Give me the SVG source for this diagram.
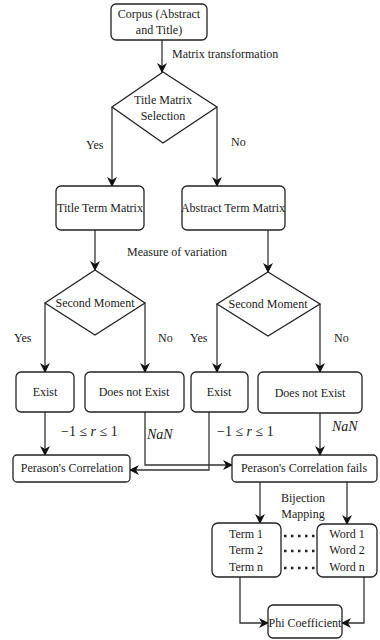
<svg xmlns="http://www.w3.org/2000/svg" width="380" height="640" viewBox="0 0 380 640">
<style>
.box{fill:#fff;stroke:#222;stroke-width:1.3}
.dia{fill:#fff;stroke:#222;stroke-width:1.3}
.t{font-size:12px;fill:#1a1a1a;text-anchor:middle}
.l{font-size:12px;fill:#1a1a1a}
.m{font-size:14px;fill:#1a1a1a}
.ca{fill:none;stroke:#333;stroke-width:1.3;marker-end:url(#ah)}
.dot{fill:none;stroke:#222;stroke-width:2.5;stroke-dasharray:2.5 4.5}
</style>
<defs>
<marker id="ah" viewBox="0 0 10 10" refX="9" refY="5" markerWidth="10" markerHeight="10" orient="auto" markerUnits="userSpaceOnUse">
<path d="M0,0 L10,5 L0,10 L3,5 Z" fill="#111"/>
</marker>
</defs>
<rect width="380" height="640" fill="#fff"/>
<g font-family="Liberation Serif, Times New Roman, serif">
<g id="connectors">
<path class="ca" d="M162,40 V72"/>
<path class="ca" d="M112,107 V186"/>
<path class="ca" d="M217,107 V186"/>
<path class="ca" d="M95,230 V270"/>
<path class="ca" d="M268,230 V272"/>
<path class="ca" d="M45,303 V372"/>
<path class="ca" d="M145,303 V372"/>
<path class="ca" d="M217,304 V372"/>
<path class="ca" d="M320,304 V372"/>
<path class="ca" d="M45,412 V455"/>
<path class="ca" d="M145,412 V465 H232"/>
<path class="ca" d="M209,412 V470 H130"/>
<path class="ca" d="M320,413 V455"/>
<path class="ca" d="M260,482 V523"/>
<path class="ca" d="M347,482 V524"/>
<path class="ca" d="M240,577 V623 H268"/>
<path class="ca" d="M364,577 V623 H342"/>
<path class="dot" d="M284,536 H316"/>
<path class="dot" d="M284,551 H316"/>
<path class="dot" d="M284,568 H316"/>
<text class="l" x="172" y="58">Matrix transformation</text>
<text class="l" x="86" y="149">Yes</text>
<text class="l" x="231" y="146">No</text>
<text class="t" x="177" y="256">Measure of variation</text>
<text class="l" x="14" y="342">Yes</text>
<text class="l" x="158" y="342">No</text>
<text class="l" x="190" y="342">Yes</text>
<text class="l" x="334" y="342">No</text>
<text class="m" x="61" y="436">−1 ≤ <tspan font-style="italic">r</tspan> ≤ 1</text>
<text class="m" x="147" y="439" font-style="italic">NaN</text>
<text class="m" x="217" y="436">−1 ≤ <tspan font-style="italic">r</tspan> ≤ 1</text>
<text class="m" x="332" y="431" font-style="italic">NaN</text>
<text class="t" x="303" y="502">Bijection</text>
<text class="t" x="303" y="518">Mapping</text>
</g>
<g id="corpus">
<rect class="box" x="111" y="4" width="96" height="36" rx="5"/>
<text class="t" x="159" y="18">Corpus (Abstract</text>
<text class="t" x="159" y="34">and Title)</text>
</g>
<g id="title-matrix-selection">
<polygon class="dia" points="163,72 217,107 163,143 112,107"/>
<text class="t" x="163" y="104">Title Matrix</text>
<text class="t" x="163" y="120">Selection</text>
</g>
<g id="title-term-matrix">
<rect class="box" x="56" y="186" width="88" height="44" rx="5"/>
<text class="t" x="100" y="212">Title Term Matrix</text>
</g>
<g id="abstract-term-matrix">
<rect class="box" x="182" y="186" width="103" height="44" rx="5"/>
<text class="t" x="233" y="212">Abstract Term Matrix</text>
</g>
<g id="second-moment-left">
<polygon class="dia" points="95,270 145,303 95,335 45,303"/>
<text class="t" x="95" y="307">Second Moment</text>
</g>
<g id="second-moment-right">
<polygon class="dia" points="268,272 320,304 268,336 217,304"/>
<text class="t" x="268" y="308">Second Moment</text>
</g>
<g id="exist-left">
<rect class="box" x="16" y="372" width="58" height="40" rx="5"/>
<text class="t" x="45" y="396">Exist</text>
</g>
<g id="not-exist-left">
<rect class="box" x="85" y="372" width="99" height="40" rx="5"/>
<text class="t" x="134" y="396">Does not Exist</text>
</g>
<g id="exist-right">
<rect class="box" x="191" y="372" width="57" height="40" rx="5"/>
<text class="t" x="219" y="396">Exist</text>
</g>
<g id="not-exist-right">
<rect class="box" x="258" y="372" width="104" height="41" rx="5"/>
<text class="t" x="310" y="397">Does not Exist</text>
</g>
<g id="pearson">
<rect class="box" x="13" y="455" width="117" height="27" rx="4"/>
<text class="t" x="72" y="472">Perason's Correlation</text>
</g>
<g id="pearson-fails">
<rect class="box" x="232" y="455" width="145" height="27" rx="4"/>
<text class="t" x="304" y="472">Perason's Correlation fails</text>
</g>
<g id="terms">
<rect class="box" x="212" y="523" width="69" height="54" rx="6"/>
<text class="t" x="246" y="538">Term 1</text>
<text class="t" x="246" y="554">Term 2</text>
<text class="t" x="246" y="571">Term n</text>
</g>
<g id="words">
<rect class="box" x="317" y="524" width="60" height="53" rx="6"/>
<text class="t" x="347" y="538">Word 1</text>
<text class="t" x="347" y="554">Word 2</text>
<text class="t" x="347" y="571">Word n</text>
</g>
<g id="phi">
<rect class="box" x="268" y="605" width="74" height="33" rx="5"/>
<text class="t" x="305" y="627">Phi Coefficient</text>
</g>
</g>
</svg>
